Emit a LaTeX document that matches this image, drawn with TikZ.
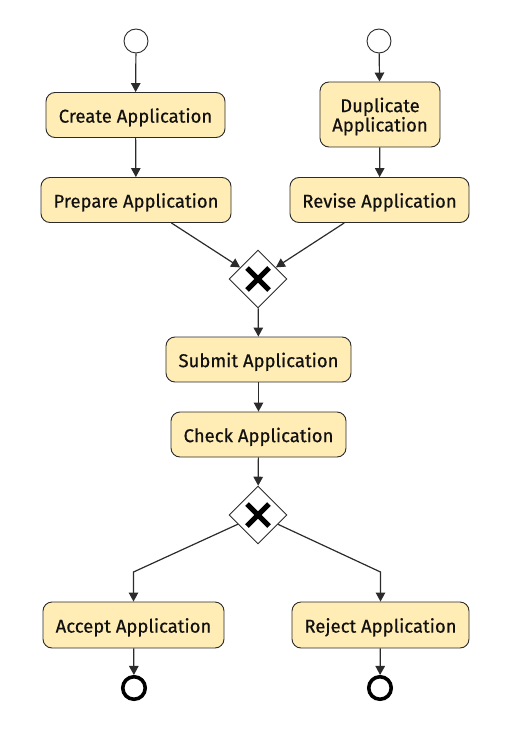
\documentclass[tikz,border=0pt]{standalone}
\usepackage{fontspec}
\setmainfont{Fira Sans}
\newfontfamily\taskfont{Fira Sans}[FakeBold=0.5]
\usetikzlibrary{shapes.geometric,arrows.meta,calc}
\definecolor{taskfill}{HTML}{FFEDB5}
\definecolor{linec}{HTML}{2B2B2B}
\definecolor{textc}{HTML}{111111}
\begin{document}
\begin{tikzpicture}[x=1pt,y=-1pt,
  task/.style={draw=linec, fill=taskfill, rounded corners=9pt, line width=0.9pt,
    font=\taskfont\fontsize{18.5}{18}\selectfont, text=textc, align=center, inner sep=0pt,
    minimum height=45pt},
  oneline/.style={text height=15.2pt, text depth=0pt},
  startev/.style={circle, draw=linec, fill=white, minimum size=24pt, inner sep=0pt, line width=0.9pt},
  endev/.style={circle, draw=black, fill=white, minimum size=22.5pt, inner sep=0pt, line width=3.6pt},
  gate/.style={diamond, draw=linec, fill=white, minimum width=58pt, minimum height=58pt,
    inner sep=0pt, line width=0.9pt},
  xmark/.style={line width=5pt, draw=black},
  flow/.style={draw=linec, line width=1.2pt, -{Triangle[length=9pt,width=9.5pt]}}
]
\useasboundingbox (0,0) rectangle (512,730);

% events
\node[startev] (s1) at (136,41) {};
\node[startev] (s2) at (379,41) {};

% tasks
\node[task, oneline, minimum width=179pt] (create) at (135.5,115) {Create Application};
\node[task, minimum width=120pt, minimum height=65pt] (dup) at (380,114.5) {\rule{0pt}{18.5pt}Duplicate\\Application};
\node[task, oneline, minimum width=190pt] (prep) at (136,200) {Prepare Application};
\node[task, oneline, minimum width=179pt] (rev) at (379.5,200) {Revise Application};

\node[gate] (g1) at (258,279) {};
\draw[xmark] ($(g1)+(-11,-11)$) -- ($(g1)+(11,11)$);
\draw[xmark] ($(g1)+(-11,11)$) -- ($(g1)+(11,-11)$);

\node[task, oneline, minimum width=185pt] (sub) at (258.5,359.5) {Submit Application};
\node[task, oneline, minimum width=175pt] (chk) at (258.5,434.5) {Check Application};

\node[gate] (g2) at (258,515) {};
\draw[xmark] ($(g2)+(-11,-11)$) -- ($(g2)+(11,11)$);
\draw[xmark] ($(g2)+(-11,11)$) -- ($(g2)+(11,-11)$);

\node[task, oneline, minimum width=181pt, minimum height=46pt] (acc) at (133.5,625) {Accept Application};
\node[task, oneline, minimum width=177pt, minimum height=46pt] (rej) at (380.5,625) {Reject Application};

\node[endev] (e1) at (134,688) {};
\node[endev] (e2) at (380,688) {};

\coordinate (ab) at (133.5,572);
\coordinate (rb) at (380.5,572);

% flows
\draw[flow] (s1) -- (create);
\draw[flow] (create) -- (prep);
\draw[flow] (s2) -- (dup);
\draw[flow] (dup) -- (rev);
\draw[flow] (prep) -- (g1);
\draw[flow] (rev) -- (g1);
\draw[flow] (g1) -- (sub);
\draw[flow] (sub) -- (chk);
\draw[flow] (chk) -- (g2);
\draw[flow] (g2) -- (ab) -- (acc);
\draw[flow] (g2) -- (rb) -- (rej);
\draw[flow] (acc) -- (e1);
\draw[flow] (rej) -- (e2);
\end{tikzpicture}
\end{document}
